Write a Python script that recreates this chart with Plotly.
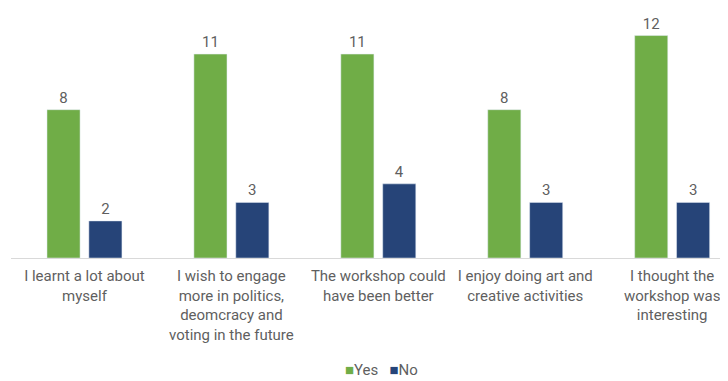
import plotly.graph_objects as go

categories = [
    "I learnt a lot about<br>myself",
    "I wish to engage<br>more in politics,<br>deomcracy and<br>voting in the future",
    "The workshop could<br>have been better",
    "I enjoy doing art and<br>creative activities",
    "I thought the<br>workshop was<br>interesting",
]
yes_values = [8, 11, 11, 8, 12]
no_values = [2, 3, 4, 3, 3]
series_names = ["Yes", "No"]
series_colors = ["#70AD47", "#264478"]

font_color = "#5f5f5f"
fig = go.Figure()
for name, vals, col in zip(series_names, [yes_values, no_values], series_colors):
    fig.add_trace(go.Bar(name=name, x=categories, y=vals, marker_color=col,
                         text=vals, textposition="outside", cliponaxis=False,
                         textfont=dict(size=15, color=font_color)))

legend_text = "&nbsp;&nbsp;&nbsp;".join(
    f"<span style='color:{c}'>■</span>{n}" for n, c in zip(series_names, series_colors)
)
fig.add_annotation(text=legend_text, xref="paper", yref="paper", x=0.517, y=-0.465,
                   xanchor="center", yanchor="middle", showarrow=False,
                   font=dict(size=15, color=font_color))

fig.update_layout(
    width=720, height=373,
    margin=dict(l=3, r=0, t=9, b=123, autoexpand=False),
    paper_bgcolor="white", plot_bgcolor="white",
    barmode="group", bargap=0.43, bargroupgap=0.21,
    font=dict(family="Roboto", size=15, color=font_color),
    showlegend=False,
    xaxis=dict(range=[-0.5, 4.38], showline=True, linecolor="#D9D9D9", linewidth=1,
               ticks="", automargin=False, ticklabelstandoff=4,
               tickfont=dict(size=15, color=font_color)),
    yaxis=dict(range=[0, 13], visible=False, automargin=False),
)
fig.write_html("out.html")
